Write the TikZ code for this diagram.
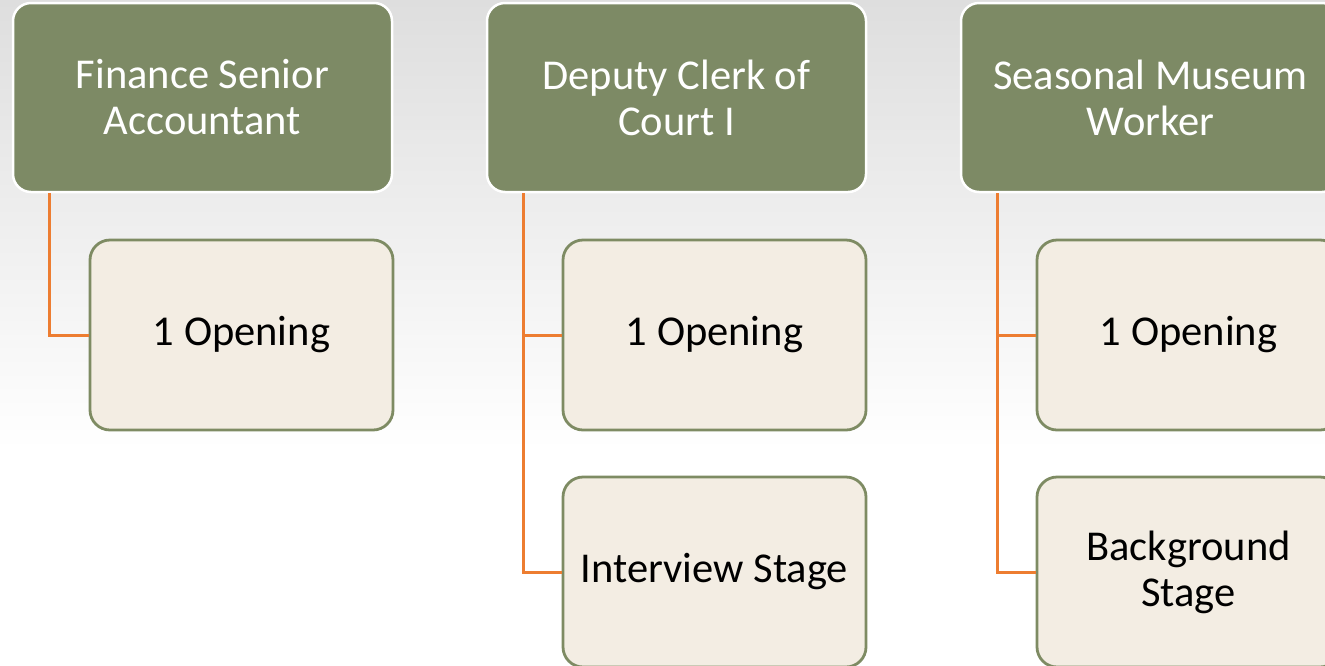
\documentclass[tikz,border=0pt]{standalone}
\usepackage{fontspec}
\setmainfont{Carlito}
\definecolor{titlefill}{HTML}{7D8A65}
\definecolor{childfill}{HTML}{F3EDE3}
\definecolor{childline}{HTML}{7E8B63}
\definecolor{connline}{HTML}{ED7D31}
\definecolor{bgtop}{HTML}{DEDEDE}
\definecolor{bgmid}{HTML}{EDEDED}
\begin{document}
\begin{tikzpicture}[x=1pt,y=-1pt,
  titlebox/.style={draw=white, line width=2.5pt, fill=titlefill, rounded corners=18pt,
    minimum width=379pt, minimum height=189pt, inner sep=0pt, align=center,
    text=white, font=\fontsize{42.5}{46}\selectfont},
  childbox/.style={draw=childline, line width=2.8pt, fill=childfill, rounded corners=20pt,
    minimum width=303pt, minimum height=190pt, inner sep=0pt, align=center,
    text=black, font=\fontsize{42.5}{46}\selectfont},
  conn/.style={draw=connline, line width=3pt}]
\useasboundingbox (0,0) rectangle (1325,665);
\clip (0,0) rectangle (1325,665);
\fill[white] (0,0) rectangle (1325,665);
\shade[top color=bgtop, middle color=bgmid, bottom color=white] (0,0) rectangle (1325,450);

\node[titlebox] (t1) at (202.5,97.5) {Finance Senior\\Accountant};
\node[titlebox] (t2) at (676.5,97.5) {Deputy Clerk of\\Court I};
\node[titlebox] (t3) at (1150.5,97.5) {Seasonal Museum\\Worker};

\node[childbox] (c11) at (241.5,335) {1 Opening};
\node[childbox] (c21) at (714.5,335) {1 Opening};
\node[childbox] (c22) at (714.5,572) {Interview Stage};
\node[childbox] (c31) at (1188.5,335) {1 Opening};
\node[childbox] (c32) at (1188.5,572) {Background\\Stage};

\coordinate (s1) at ([xshift=38pt]t1.south west);
\coordinate (s2) at ([xshift=38pt]t2.south west);
\coordinate (s3) at ([xshift=38pt]t3.south west);

\draw[conn] (s1) |- (c11.west);
\draw[conn] (s2) |- (c21.west);
\draw[conn] (s2) |- (c22.west);
\draw[conn] (s3) |- (c31.west);
\draw[conn] (s3) |- (c32.west);
\end{tikzpicture}
\end{document}
